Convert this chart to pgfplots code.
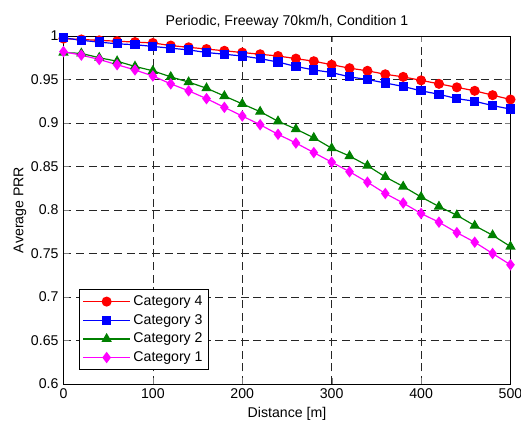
\documentclass[border=0pt]{standalone}
\usepackage{fontspec}
\setmainfont{Liberation Sans}
\usepackage{pgfplots}
\pgfplotsset{compat=1.18}
\usetikzlibrary{calc}
\definecolor{mGreen}{RGB}{0,128,0}
\definecolor{mMag}{RGB}{255,0,255}
\newcommand{\fs}{\fontsize{10.6}{12.7}\selectfont}

\begin{document}
\fs
\begin{tikzpicture}
\begin{axis}[
  scale only axis,
  width=335.25pt, height=261pt,
  xmin=0, xmax=500, ymin=0.6, ymax=1,
  xtick={0,100,...,500},
  ytick={0.6,0.65,...,1.01},
  /pgf/number format/assume math mode=true,
  yticklabel style={/pgf/number format/fixed},
  tick label style={font=\fs},
  title={Periodic, Freeway 70km/h, Condition 1},
  xlabel={Distance [m]},
  ylabel={Average PRR},
  every axis title/.style={at={(axis description cs:0.5,1.031)}, anchor=base, font=\fs},
  every axis x label/.style={at={(axis description cs:0.5,-0.097)}, anchor=base, font=\fs},
  every axis y label/.style={at={(axis description cs:-0.0895,0.5)}, rotate=90, anchor=base, font=\fs},
  grid=major,
  major grid style={black!85, dash pattern=on 6pt off 3.5pt, line width=0.5pt},
  tick align=inside,
  axis line style={black, line width=0.6pt},
  every axis plot/.append style={line width=0.9pt},
  legend style={at={(0.034,0.04)}, anchor=south west, draw=black,
    line width=0.8pt, font=\fs,
    row sep=1pt, inner sep=2.5pt},
  legend cell align=left,
  legend image code/.code={
    \draw[mark repeat=2, mark phase=2] plot coordinates {(0cm,0cm) (0.62cm,0cm) (1.24cm,0cm)};
  },
]
\addplot[red, mark=*, mark size=3.3pt] coordinates {
(0,0.997) (20,0.996) (40,0.995) (60,0.994) (80,0.993) (100,0.992)
(120,0.989) (140,0.987) (160,0.985) (180,0.983) (200,0.981) (220,0.979)
(240,0.977) (260,0.974) (280,0.971) (300,0.967) (320,0.963) (340,0.960)
(360,0.956) (380,0.953) (400,0.949) (420,0.945) (440,0.941) (460,0.937)
(480,0.932) (500,0.927)};
\addlegendentry{Category 4}
\addplot[blue, mark=square*, mark size=3pt] coordinates {
(0,0.998) (20,0.995) (40,0.993) (60,0.991) (80,0.990) (100,0.988)
(120,0.986) (140,0.984) (160,0.981) (180,0.979) (200,0.977) (220,0.974)
(240,0.970) (260,0.965) (280,0.961) (300,0.958) (320,0.953) (340,0.950)
(360,0.946) (380,0.942) (400,0.937) (420,0.933) (440,0.928) (460,0.925)
(480,0.920) (500,0.916)};
\addlegendentry{Category 3}
\addplot[mGreen, mark=triangle*, mark size=3.6pt] coordinates {
(0,0.981) (20,0.980) (40,0.975) (60,0.971) (80,0.965) (100,0.960)
(120,0.953) (140,0.947) (160,0.940) (180,0.931) (200,0.922) (220,0.913)
(240,0.902) (260,0.893) (280,0.883) (300,0.871) (320,0.862) (340,0.851)
(360,0.838) (380,0.827) (400,0.815) (420,0.804) (440,0.794) (460,0.782)
(480,0.771) (500,0.758)};
\addlegendentry{Category 2}
\addplot[mMag, mark=diamond*, mark size=3.6pt] coordinates {
(0,0.982) (20,0.978) (40,0.973) (60,0.967) (80,0.961) (100,0.954)
(120,0.945) (140,0.937) (160,0.928) (180,0.918) (200,0.908) (220,0.898)
(240,0.887) (260,0.877) (280,0.866) (300,0.855) (320,0.844) (340,0.832)
(360,0.819) (380,0.808) (400,0.796) (420,0.786) (440,0.774) (460,0.763)
(480,0.750) (500,0.737)};
\addlegendentry{Category 1}
\end{axis}
\pgfresetboundingbox
\path ($(current axis.south west)+(-47.6pt,-30pt)$) rectangle ($(current axis.north east)+(7.9pt,27pt)$);
\end{tikzpicture}
\end{document}
